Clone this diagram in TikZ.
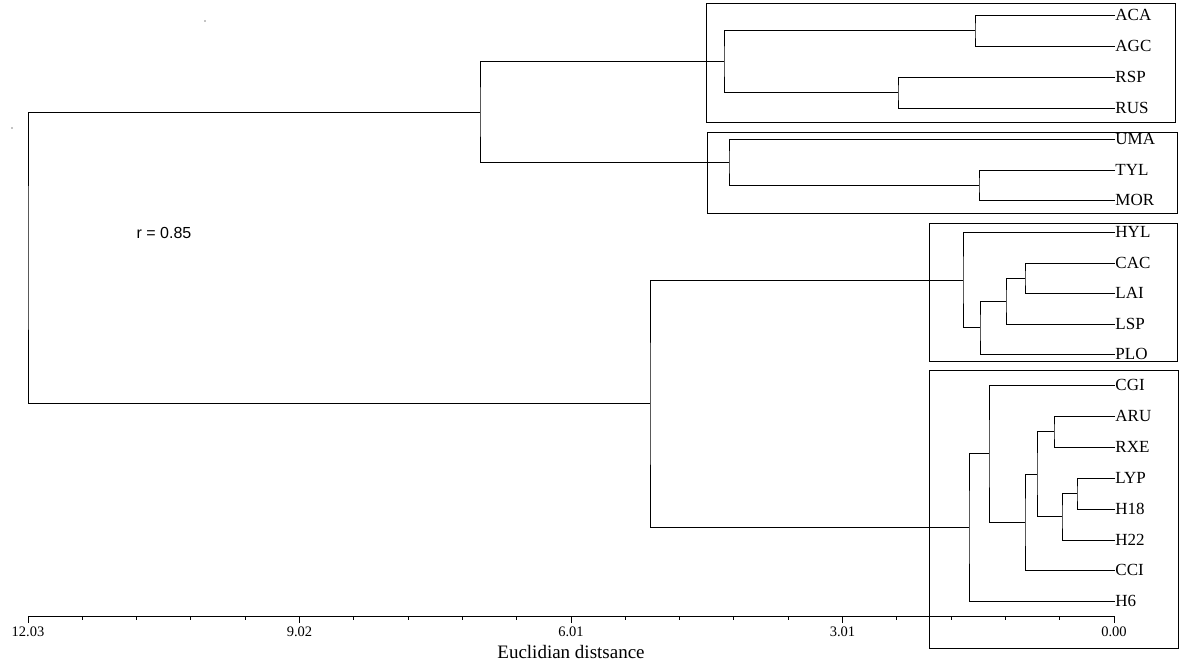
\documentclass[tikz,border=0pt]{standalone}
\usepackage{fontspec}
\setmainfont{Liberation Serif}
\newfontfamily\rfont{Liberation Sans}
\begin{document}
\begin{tikzpicture}[x=1pt,y=-1pt,
  line width=0.9pt,
  leaf/.style={anchor=west,inner sep=0pt,font=\fontsize{17}{17}\selectfont},
  branch/.style={line width=0.9pt},
  grp/.style={draw,line width=0.9pt},
  ticklab/.style={font=\fontsize{14.5}{14.5}\selectfont,inner sep=0pt}]
\useasboundingbox[fill=white] (0,0) rectangle (1195,665);
% leaves
\foreach \n/\y in {ACA/15,AGC/46,RSP/77,RUS/108,UMA/139,TYL/170,MOR/200,HYL/232,CAC/263,LAI/293,LSP/324,PLO/354,CGI/385,ARU/416,RXE/447,LYP/478,H18/509,H22/540,CCI/570,H6/601}
  \node[leaf] (\n) at (1115,\y) {\n};
% internal joins
\coordinate (a1) at (975,30.5);
\coordinate (a2) at (898,92.5);
\coordinate (a3) at (724,61.5);
\coordinate (b1) at (979,185);
\coordinate (b2) at (729,162);
\coordinate (t)  at (480,112);
\coordinate (c1) at (1025,278);
\coordinate (c2) at (1006,301);
\coordinate (c3) at (980,327.5);
\coordinate (c4) at (963,280);
\coordinate (d1) at (1077,493.5);
\coordinate (d2) at (1062,516.75);
\coordinate (d3) at (1054,431.5);
\coordinate (d4) at (1037,474);
\coordinate (d5) at (1025,522);
\coordinate (d6) at (989,453.5);
\coordinate (d7) at (969,527);
\coordinate (m)  at (650,403.5);
\coordinate (root) at (28,257.75);
% branches
\draw[branch] (ACA.west) -| (a1) |- (AGC.west);
\draw[branch] (RSP.west) -| (a2) |- (RUS.west);
\draw[branch] (a1) -| (a3) |- (a2);
\draw[branch] (TYL.west) -| (b1) |- (MOR.west);
\draw[branch] (UMA.west) -| (b2) |- (b1);
\draw[branch] (a3) -| (t) |- (b2);
\draw[branch] (CAC.west) -| (c1) |- (LAI.west);
\draw[branch] (c1) -| (c2) |- (LSP.west);
\draw[branch] (c2) -| (c3) |- (PLO.west);
\draw[branch] (HYL.west) -| (c4) |- (c3);
\draw[branch] (LYP.west) -| (d1) |- (H18.west);
\draw[branch] (d1) -| (d2) |- (H22.west);
\draw[branch] (ARU.west) -| (d3) |- (RXE.west);
\draw[branch] (d3) -| (d4) |- (d2);
\draw[branch] (d4) -| (d5) |- (CCI.west);
\draw[branch] (CGI.west) -| (d6) |- (d5);
\draw[branch] (d6) -| (d7) |- (H6.west);
\draw[branch] (c4) -| (m) |- (d7);
\draw[branch] (t) -| (root) |- (m);
% group boxes
\draw[grp] (706,3) rectangle (1175,122);
\draw[grp] (707,132) rectangle (1177,213);
\draw[grp] (929,223) rectangle (1177,361);
\draw[grp] (929,370) rectangle (1178,648);
% axis
\draw (28,616) -- (1114,616);
\foreach \i in {0,...,20} {
  \pgfmathsetmacro{\xx}{28+\i*54.3}
  \pgfmathtruncatemacro{\mj}{mod(\i,5)==0 ? 1 : 0}
  \ifnum\mj=1
    \draw (\xx,616) -- (\xx,623);
  \else
    \draw (\xx,616) -- (\xx,620);
  \fi
}
\node[ticklab] (l0) at (28,632) {12.03};
\node[ticklab] (l1) at (299.5,632) {9.02};
\node[ticklab] (l2) at (571,632) {6.01};
\node[ticklab] (l3) at (842.5,632) {3.01};
\node[ticklab] (l4) at (1114,632) {0.00};
\node[font=\fontsize{19}{19}\selectfont,inner sep=0pt] (xl) at (571,652) {Euclidian distsance};
\node[font=\rfont\fontsize{16}{16}\selectfont,inner sep=0pt] (r) at (164,233) {r = 0.85};
% stray dots
\fill (205,21) circle (0.6);
\fill (12,128) circle (0.6);
\end{tikzpicture}
\end{document}
